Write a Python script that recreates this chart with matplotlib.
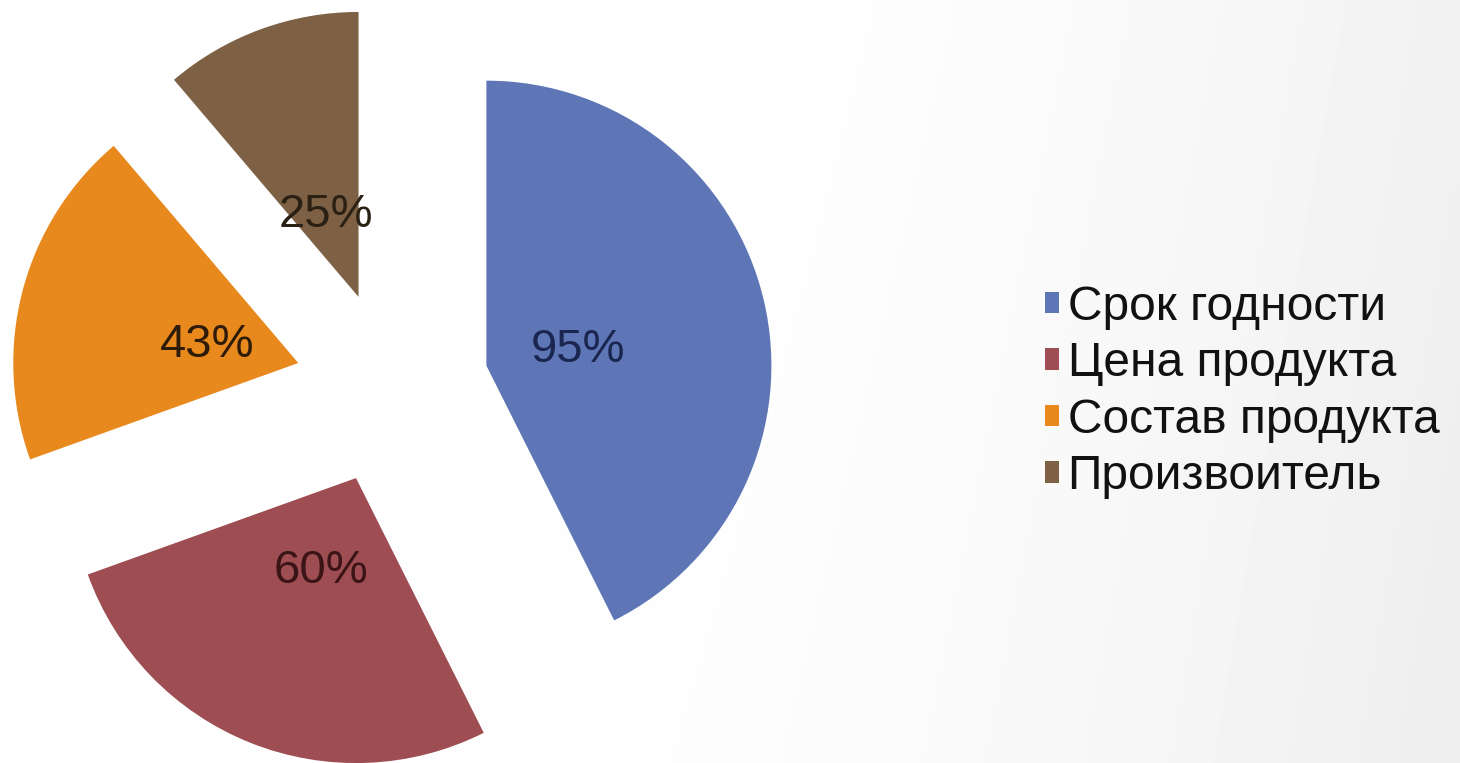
import matplotlib.pyplot as plt
import numpy as np

# chart data
categories = ["Срок годности", "Цена продукта", "Состав продукта", "Произвоитель"]
values = [95, 60, 43, 25]
colors = ["#5e76b6", "#9e4e53", "#e8891e", "#7e6144"]
label_colors = ["#1a2550", "#3a1416", "#2e1c08", "#2a2014"]

W, H = 1460, 763
fig = plt.figure(figsize=(W / 100, H / 100), dpi=100)
ax = fig.add_axes([0, 0, 1, 1])

# soft grey shading toward the right edge
gx = np.linspace(0, 1, 300)
gy = np.linspace(0, 1, 160)
GX, GY = np.meshgrid(gx, gy)
shade = 1.0 - 0.055 * np.clip((GX - 0.4) / 0.6, 0, 1) ** 1.8 - 0.015 * GY * GX
ax.imshow(shade, extent=(0, W, 0, H), cmap="gray", vmin=0, vmax=1,
          origin="upper", aspect="auto", zorder=0, interpolation="bilinear")

total = sum(values)
radius = 285
wedges, texts, autotexts = ax.pie(
    values,
    colors=colors,
    startangle=90,
    counterclock=False,
    center=(392, H - 388),
    radius=radius,
    explode=[97] * len(values),
    autopct=lambda p: f"{round(p * total / 100):.0f}%",
    pctdistance=0.33,
    textprops={"fontsize": 34, "family": "Liberation Sans"},
    wedgeprops={"linewidth": 0},
)
for t, c in zip(autotexts, label_colors):
    t.set_color(c)
    x, y = t.get_position()
    t.set_position((x, y - 6))

ax.set_xlim(0, W)
ax.set_ylim(0, H)
ax.set_aspect("auto")
ax.axis("off")

leg = ax.legend(
    wedges, categories,
    loc="center left", bbox_to_anchor=(1045 / W, 1 - 392 / H),
    frameon=False,
    prop={"family": "Liberation Sans", "size": 34.5},
    handlelength=0.3, handleheight=0.3,
    handletextpad=0.17, labelspacing=0.24, borderpad=0, borderaxespad=0,
)
for txt in leg.get_texts():
    txt.set_color("#111111")

fig.savefig("out.png", dpi=100)
